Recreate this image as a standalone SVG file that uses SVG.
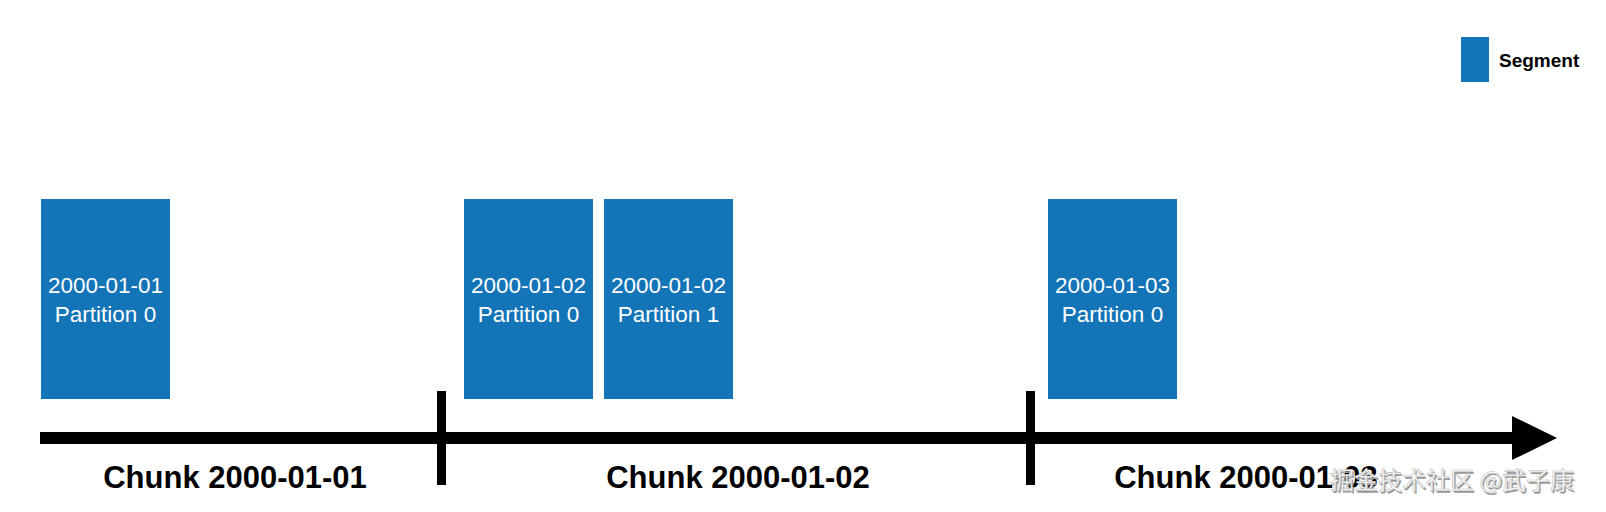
<svg xmlns="http://www.w3.org/2000/svg" width="1606" height="512" viewBox="0 0 1606 512">
<style>
.seg{fill:#1474b8}
.st{font-family:"Liberation Sans",Arial,sans-serif;font-size:22.5px;fill:#fff;text-anchor:middle}
.ck{font-family:"Liberation Sans",Arial,sans-serif;font-size:31px;font-weight:bold;fill:#000;text-anchor:middle}
.lg{font-family:"Liberation Sans",Arial,sans-serif;font-size:19px;font-weight:bold;fill:#000}
.wm{font-family:"Noto Sans CJK SC",sans-serif;font-size:24px}
</style>
<rect width="1606" height="512" fill="#fff"/>
<g id="legend">
<rect class="seg" x="1461" y="37" width="28" height="45"/>
<text class="lg" x="1499" y="67">Segment</text>
</g>
<g id="seg-0101-p0">
<rect class="seg" x="41" y="199" width="129" height="200"/>
<text class="st" x="105.5" y="293">2000-01-01</text>
<text class="st" x="105.5" y="322">Partition 0</text>
</g>
<g id="seg-0102-p0">
<rect class="seg" x="464" y="199" width="129" height="200"/>
<text class="st" x="528.5" y="293">2000-01-02</text>
<text class="st" x="528.5" y="322">Partition 0</text>
</g>
<g id="seg-0102-p1">
<rect class="seg" x="604" y="199" width="129" height="200"/>
<text class="st" x="668.5" y="293">2000-01-02</text>
<text class="st" x="668.5" y="322">Partition 1</text>
</g>
<g id="seg-0103-p0">
<rect class="seg" x="1048" y="199" width="129" height="200"/>
<text class="st" x="1112.5" y="293">2000-01-03</text>
<text class="st" x="1112.5" y="322">Partition 0</text>
</g>
<g id="connectors">
<rect x="40" y="432" width="1475" height="12" fill="#000"/>
<polygon points="1512,416 1557,438 1512,460" fill="#000"/>
<rect x="437" y="391" width="9" height="94" fill="#000"/>
<rect x="1026" y="391" width="9" height="94" fill="#000"/>
</g>
<g id="chunk-labels">
<text class="ck" x="235" y="488">Chunk 2000-01-01</text>
<text class="ck" x="738" y="488">Chunk 2000-01-02</text>
<text class="ck" x="1246" y="488">Chunk 2000-01-03</text>
</g>
<g id="watermark">
<text class="wm" x="1331.5" y="490.5" fill="#999">掘金技术社区 @武子康</text>
<text class="wm" x="1330" y="489" fill="#fff" stroke="#bbb" stroke-width="0.6">掘金技术社区 @武子康</text>
</g>
</svg>
